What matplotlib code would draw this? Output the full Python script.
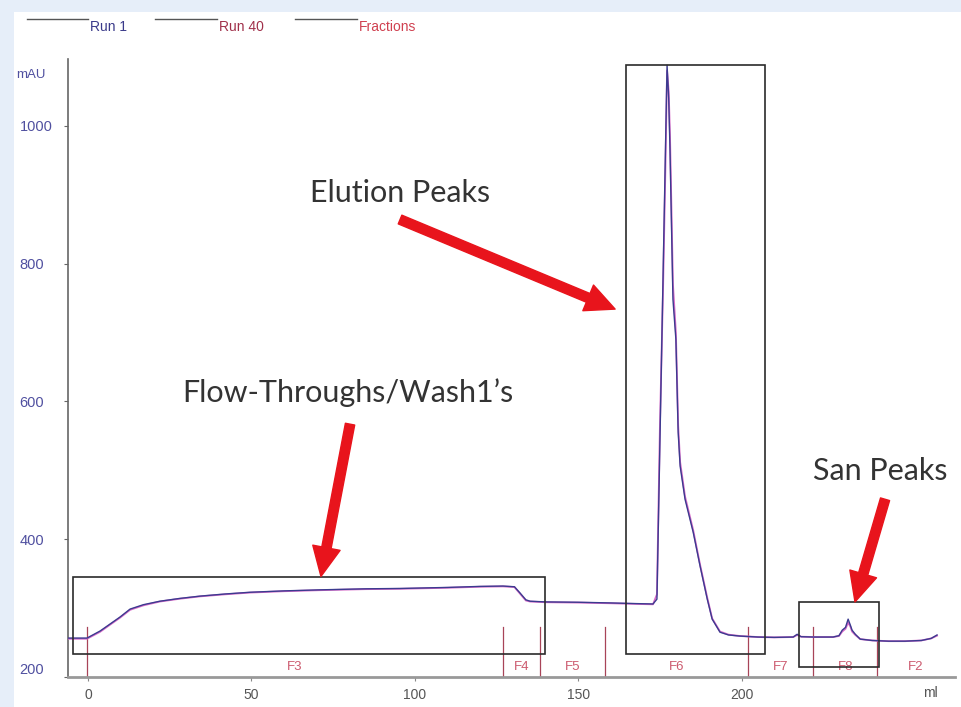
import matplotlib
matplotlib.use("Agg")
import matplotlib.pyplot as plt
from matplotlib.lines import Line2D
from matplotlib.patches import Rectangle

# chromatogram trace (ml, mAU)
run_ml = [-6.1, -0.3, 3.7, 6.5, 9.8, 12.9, 17, 22, 28, 34.3, 42, 49.6, 60, 71, 85,
          95.5, 110, 120, 127, 130.5, 132.2, 134, 135.3, 140, 150, 160, 168, 172.9,
          174.1, 175, 176, 176.7, 177.2, 177.7, 178.1, 179, 179.9, 180.6, 181.2,
          182.7, 185.2, 187.3, 189.5, 191, 193.4, 196, 199.5, 205, 210, 215.8, 217,
          218.2, 222, 228, 229.8, 230.8, 231.8, 232.6, 233.3, 233.8, 234.8, 236.3,
          240, 245, 250, 255, 258, 259.8]
run1_mau = [256.5, 256.5, 266.7, 276, 287, 298.6, 305, 310, 314, 317.4, 320.5, 323,
            325, 326.5, 328, 328.5, 330, 331.5, 332, 331, 322, 312, 310, 309, 308.5,
            307.5, 306.5, 306, 313, 538, 788, 963, 1088, 1040, 965, 748, 690, 555,
            506, 458, 410, 361, 313, 284, 265, 261, 259.4, 258, 257.5, 258, 262,
            258.5, 258, 258, 260, 268, 272, 284, 275, 268, 262, 255, 253, 252, 252,
            253, 256, 261]
run40_mau = [255.5, 255.5, 265.5, 275, 286, 297.5, 304, 309.5, 313.5, 317, 320, 322.5,
             324.5, 326, 327.5, 328, 329.5, 331, 331.5, 330.5, 321, 311, 309.5, 308.5,
             308, 307, 306, 305.5, 320, 560, 770, 940, 1080, 1050, 985, 770, 700, 565,
             512, 462, 413, 363, 315, 285, 266, 261.5, 259.5, 258, 257.5, 258, 261,
             258.5, 258, 258, 259.5, 266, 270, 279, 273, 266, 261, 255, 253, 252, 252,
             253, 256, 260]

# fraction boundaries (ml) and names
frac_edges = [-0.3, 127, 138.3, 158.2, 202, 221.9, 241.5, 265.3]
frac_names = ["F3", "F4", "F5", "F6", "F7", "F8", "F2"]

y_ticks = [200, 400, 600, 800, 1000]
x_ticks = [0, 50, 100, 150, 200]

# highlighted regions: (ml start, ml end, mAU low, mAU high)
boxes = [(-4.6, 139.9, 233.3, 345), (164.7, 207.2, 233.3, 1088), (217.6, 242.1, 214.5, 308.7)]

# callouts: text, text pos, arrow tail, arrow tip
callouts = [
    ("Elution Peaks", (95.5, 903), (95.5, 864), (161.3, 734)),
    ("Flow-Throughs/Wash1\u2019s", (79.6, 613), (80.2, 567), (71.3, 346)),
    ("San Peaks", (242.4, 499), (243.9, 458), (234.7, 309)),
]

W, H = 961, 707
fig = plt.figure(figsize=(W / 100, H / 100), dpi=100, facecolor="#e6eef9")
fig.add_artist(Rectangle((14 / W, 0), 1 - 14 / W, 1 - 12 / H, transform=fig.transFigure,
                         facecolor="white", edgecolor="none", zorder=0))

ax = fig.add_axes([68 / W, 1 - 677 / H, (955 - 68) / W, (677 - 59) / H])
ax.set_facecolor("none")
ax.set_xlim(-6.1, 265.3)
ax.set_ylim(200, 1097)

for s in ["top", "right"]:
    ax.spines[s].set_visible(False)
ax.spines["left"].set_color("#666666")
ax.spines["left"].set_linewidth(1.2)
ax.spines["bottom"].set_color("#999999")
ax.spines["bottom"].set_linewidth(2)

ax.plot(run_ml, run40_mau, color="#d66ac8", lw=1.3, zorder=3)
ax.plot(run_ml, run1_mau, color="#3b3b8f", lw=1.0, zorder=4)

# fractions
for e in frac_edges[:-1]:
    ax.plot([e, e], [200, 272.5], color="#a84458", lw=0.9, zorder=2)
for i, name in enumerate(frac_names):
    mid = (frac_edges[i] + frac_edges[i + 1]) / 2
    ax.text(mid, 214, name, ha="center", va="center", fontsize=9.5,
            color="#cc5a6e", family="Liberation Sans")

for x0, x1, y0, y1 in boxes:
    ax.add_patch(Rectangle((x0, y0), x1 - x0, y1 - y0, fill=False,
                           edgecolor="#2b2b2b", lw=1.2, zorder=5))

for txt, tpos, tail, tip in callouts:
    ax.text(tpos[0], tpos[1], txt, ha="center", va="center", fontsize=22,
            color="#333333", family="Lato")
    ax.annotate("", xy=tip, xytext=tail,
                arrowprops=dict(arrowstyle="simple,head_length=1.05,head_width=1.0,tail_width=0.34",
                                color="#e8141c", mutation_scale=20, shrinkA=0, shrinkB=0),
                zorder=6)

ax.set_xticks(x_ticks)
ax.set_xticklabels([str(v) for v in x_ticks], family="Liberation Sans", fontsize=10, color="#555555")
ax.tick_params(axis="x", length=3, width=0.8, color="#888888", pad=5)
ax.set_yticks(y_ticks)
ax.set_yticklabels([str(v) for v in y_ticks], family="Liberation Sans", fontsize=10.5, color="#5050a0")
ax.tick_params(axis="y", length=3, width=0.8, color="#666666", pad=32)
for lab in ax.get_yticklabels():
    lab.set_horizontalalignment("left")
ax.get_yticklabels()[0].set_verticalalignment("bottom")

fig.text(16 / W, 1 - 75 / H, "mAU", ha="left", va="center", fontsize=9.5,
         color="#5050a0", family="Liberation Sans")
fig.text(930 / W, 1 - 693 / H, "ml", ha="center", va="center", fontsize=10,
         color="#555555", family="Liberation Sans")

# legend row
legend = [("Run 1", 27, 88, "#3a3a8a"), ("Run 40", 155, 217, "#a0304a"), ("Fractions", 295, 357, "#d04050")]
for name, lx0, lx1, col in legend:
    fig.add_artist(Line2D([lx0 / W, lx1 / W], [1 - 19 / H, 1 - 19 / H], color="#555555",
                          lw=1.0, transform=fig.transFigure))
    fig.text((lx1 + 2) / W, 1 - 27 / H, name, ha="left", va="center", fontsize=10,
             color=col, family="Liberation Sans")

fig.savefig("out.png", dpi=100, facecolor=fig.get_facecolor())
